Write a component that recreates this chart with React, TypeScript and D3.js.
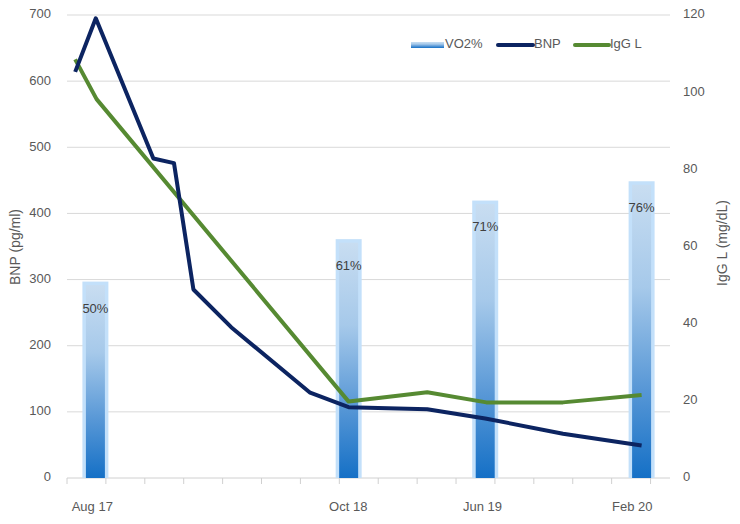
import React from "react";
import * as d3 from "d3";

// Data (x positions in axis-tick units)
const bnpX = [0.21, 0.74, 2.22, 2.75, 3.25, 4.22, 6.25, 7.24, 9.26, 10.75, 12.75, 14.77];
const bnpValues = [614, 695, 483, 476, 285, 228, 129, 107, 104, 90, 67, 49];

const iggX = [0.21, 0.76, 7.24, 9.26, 10.78, 12.75, 14.77];
const iggValues = [108.5, 98.2, 19.8, 22.2, 19.6, 19.6, 21.5];

const vo2X = [0.73, 7.24, 10.75, 14.77];
const vo2Values = [50, 61, 71, 76];
const vo2Labels = ["50%", "61%", "71%", "76%"];

const dateLabels = ["Aug 17", "Oct 18", "Jun 19", "Feb 20"];
const dateLabelX = [0.65, 7.23, 10.68, 14.53];

const leftTicks = [0, 100, 200, 300, 400, 500, 600, 700];
const rightTicks = [0, 20, 40, 60, 80, 100, 120];
const xTickCount = 16;

const W = 740;
const H = 524;
const M = { left: 67, right: 70, top: 15, bottom: 46 };

export default function App() {
  const x = d3.scaleLinear().domain([0, 15.5]).range([M.left, W - M.right]);
  const yL = d3.scaleLinear().domain([0, 700]).range([H - M.bottom, M.top]);
  const yR = d3.scaleLinear().domain([0, 120]).range([H - M.bottom, M.top]);
  const font = "'Liberation Sans', Arial, sans-serif";
  const txt = "#595959";

  const bnpLine = d3
    .line<number>()
    .x((_, i) => x(bnpX[i]))
    .y((d) => yL(d))
    .curve(d3.curveLinear);
  const iggLine = d3
    .line<number>()
    .x((_, i) => x(iggX[i]))
    .y((d) => yR(d))
    .curve(d3.curveLinear);

  const barW = 19;
  const y0 = yL(0);

  return (
    <svg
      width={W}
      height={H}
      style={{ position: "absolute", left: 0, top: 0, background: "#fff" }}
      fontFamily={font}
    >
      <defs>
        <linearGradient id="barGrad" x1="0" y1="0" x2="0" y2="1">
          <stop offset="0%" stopColor="#c8ddf1" />
          <stop offset="35%" stopColor="#a6c9ea" />
          <stop offset="70%" stopColor="#5797d6" />
          <stop offset="100%" stopColor="#1570c6" />
        </linearGradient>
        <filter id="glow" x="-50%" y="-10%" width="200%" height="120%">
          <feGaussianBlur stdDeviation="0.7" />
        </filter>
      </defs>

      {/* gridlines */}
      {leftTicks.slice(1).map((t) => (
        <line
          key={"g" + t}
          x1={M.left}
          x2={W - M.right}
          y1={yL(t)}
          y2={yL(t)}
          stroke="#d9d9d9"
          strokeWidth={1}
        />
      ))}

      {/* x axis */}
      <line x1={M.left} x2={W - M.right} y1={y0} y2={y0} stroke="#d0d0d0" strokeWidth={1} />
      {d3.range(xTickCount).map((k) => (
        <line key={"t" + k} x1={x(k)} x2={x(k)} y1={y0} y2={y0 + 6} stroke="#d0d0d0" strokeWidth={1} />
      ))}

      {/* bars */}
      {vo2Values.map((v, i) => {
        const cx = x(vo2X[i]);
        const top = yR(v);
        return (
          <g key={"b" + i}>
            <rect
              x={cx - barW / 2 - 3.5}
              y={top - 3.5}
              width={barW + 7}
              height={y0 - top + 3.5}
              fill="#c3e0fa"
              filter="url(#glow)"
            />
            <rect x={cx - barW / 2} y={top} width={barW} height={y0 - top} fill="url(#barGrad)" />
          </g>
        );
      })}

      {/* lines */}
      <path d={iggLine(iggValues) || ""} fill="none" stroke="#568a32" strokeWidth={4} strokeLinejoin="round" />
      <path d={bnpLine(bnpValues) || ""} fill="none" stroke="#0c2461" strokeWidth={4} strokeLinejoin="round" />

      {/* bar labels */}
      {vo2Values.map((v, i) => (
        <text
          key={"bl" + i}
          x={x(vo2X[i])}
          y={yR(v) + 24}
          textAnchor="middle"
          dominantBaseline="middle"
          fontSize={13}
          fill="#404040"
        >
          {vo2Labels[i]}
        </text>
      ))}

      {/* left ticks */}
      {leftTicks.map((t) => (
        <text key={"l" + t} x={51} y={yL(t)} textAnchor="end" dominantBaseline="middle" fontSize={13} fill={txt}>
          {t}
        </text>
      ))}
      {/* right ticks */}
      {rightTicks.map((t) => (
        <text key={"r" + t} x={683} y={yR(t)} textAnchor="start" dominantBaseline="middle" fontSize={13} fill={txt}>
          {t}
        </text>
      ))}

      {/* x labels */}
      {dateLabels.map((d, i) => (
        <text key={"x" + i} x={x(dateLabelX[i])} y={508} textAnchor="middle" dominantBaseline="middle" fontSize={13} fill={txt}>
          {d}
        </text>
      ))}

      {/* axis titles */}
      <text
        transform={`translate(16,247) rotate(-90)`}
        textAnchor="middle"
        dominantBaseline="middle"
        fontSize={14}
        fill={txt}
      >
        BNP (pg/ml)
      </text>
      <text
        transform={`translate(723,243) rotate(-90)`}
        textAnchor="middle"
        dominantBaseline="middle"
        fontSize={14}
        fill={txt}
      >
        IgG L (mg/dL)
      </text>

      {/* legend */}
      <g fontSize={13} fill={txt}>
        <rect x={411} y={42} width={33} height={6} fill="url(#barGrad)" />
        <text x={445} y={45} dominantBaseline="middle">VO2%</text>
        <line x1={498} x2={533} y1={45} y2={45} stroke="#0c2461" strokeWidth={4} strokeLinecap="round" />
        <text x={534} y={45} dominantBaseline="middle">BNP</text>
        <line x1={575} x2={609} y1={45} y2={45} stroke="#568a32" strokeWidth={4} strokeLinecap="round" />
        <text x={610} y={45} dominantBaseline="middle">IgG L</text>
      </g>
    </svg>
  );
}
